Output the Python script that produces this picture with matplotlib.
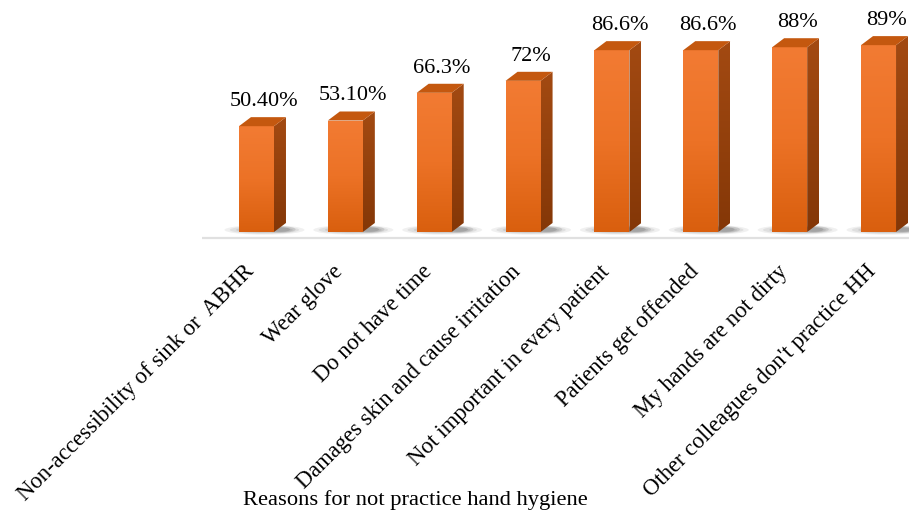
import numpy as np
import matplotlib
matplotlib.use("Agg")
import matplotlib.pyplot as plt
from matplotlib.patches import Polygon, Ellipse
from matplotlib.colors import LinearSegmentedColormap

categories = [
    "Non-accessibility of sink or  ABHR",
    "Wear glove",
    "Do not have time",
    "Damages skin and cause irritation",
    "Not important in every patient",
    "Patients get offended",
    "My hands are not dirty",
    "Other colleagues don't practice HH",
]
values = [50.4, 53.1, 66.3, 72, 86.6, 86.6, 88, 89]
value_labels = ["50.40%", "53.10%", "66.3%", "72%", "86.6%", "86.6%", "88%", "89%"]
x_title = "Reasons for not practice hand hygiene"

plt.rcParams['font.family'] = ['Liberation Serif', 'DejaVu Serif']

W, H = 909, 511
fig = plt.figure(figsize=(W / 100, H / 100), dpi=100)
ax_left_px, ax_right_px = 202, 909
ax_top_px, ax_bot_px = 0, 240.4
ax = fig.add_axes([ax_left_px / W, (H - ax_bot_px) / H,
                   (ax_right_px - ax_left_px) / W, (ax_bot_px - ax_top_px) / H])
xlim = (-0.613, 7.343)
ylim = (-4, 110.5)

bw = 0.394
dx = 0.135
dy = 4.3

front_cmap = LinearSegmentedColormap.from_list("f", ["#D95F0E", "#EC7226", "#F27B33"])
side_cmap = LinearSegmentedColormap.from_list("s", ["#843707", "#A34A12"])
grad = np.linspace(0, 1, 256).reshape(-1, 1)

for i, v in enumerate(values):
    x0, x1 = i - bw / 2, i + bw / 2
    # soft shadow behind the bar base
    for w, h, a in [(0.9, 4.6, 0.08), (0.78, 3.8, 0.10), (0.64, 3.0, 0.12)]:
        ax.add_patch(Ellipse((i + 0.09, 1.0), w, h, facecolor="#4a4a4a",
                             edgecolor="none", alpha=a, zorder=1))
    for w, h, a in [(0.34, 3.2, 0.15), (0.22, 2.2, 0.18)]:
        ax.add_patch(Ellipse((i + 0.27, 1.2), w, h, facecolor="#4a4a4a",
                             edgecolor="none", alpha=a, zorder=1))
    # front face
    front = Polygon([(x0, 0), (x1, 0), (x1, v), (x0, v)], closed=True,
                    facecolor="none", edgecolor="none", zorder=3)
    ax.add_patch(front)
    im = ax.imshow(grad, cmap=front_cmap, origin="lower", aspect="auto",
                   extent=(x0, x1, 0, v), zorder=3)
    im.set_clip_path(front)
    # side face
    side = Polygon([(x1, 0), (x1 + dx, dy), (x1 + dx, v + dy), (x1, v)], closed=True,
                   facecolor="none", edgecolor="none", zorder=3)
    ax.add_patch(side)
    im2 = ax.imshow(grad, cmap=side_cmap, origin="lower", aspect="auto",
                    extent=(x1, x1 + dx, 0, v + dy), zorder=3)
    im2.set_clip_path(side)
    # top face
    ax.add_patch(Polygon([(x0, v), (x1, v), (x1 + dx, v + dy), (x0 + dx, v + dy)],
                         closed=True, facecolor="#C4580F", edgecolor="none", zorder=4))
    # value label
    ax.text(i + 0.085, v + 11.8, value_labels[i], ha="center", va="center",
            fontsize=16, color="black", zorder=5, clip_on=False)
    # category label
    ax.annotate(categories[i], xy=(i, 0), xycoords="data",
                xytext=(-13 * 0.72, -29 * 0.72), textcoords="offset points",
                rotation=45, ha="right", va="top", rotation_mode="anchor",
                fontsize=16.3, color="black", annotation_clip=False)

ax.axhline(-2.9, color="#E0E0E0", lw=1.6, zorder=0)
ax.set_xlim(*xlim)
ax.set_ylim(*ylim)
for s in ax.spines.values():
    s.set_visible(False)
ax.set_xticks([])
ax.set_yticks([])

fig.text(415 / W, (H - 500) / H, x_title, ha="center", va="center", fontsize=16.2)

fig.savefig("out.png", dpi=100)
